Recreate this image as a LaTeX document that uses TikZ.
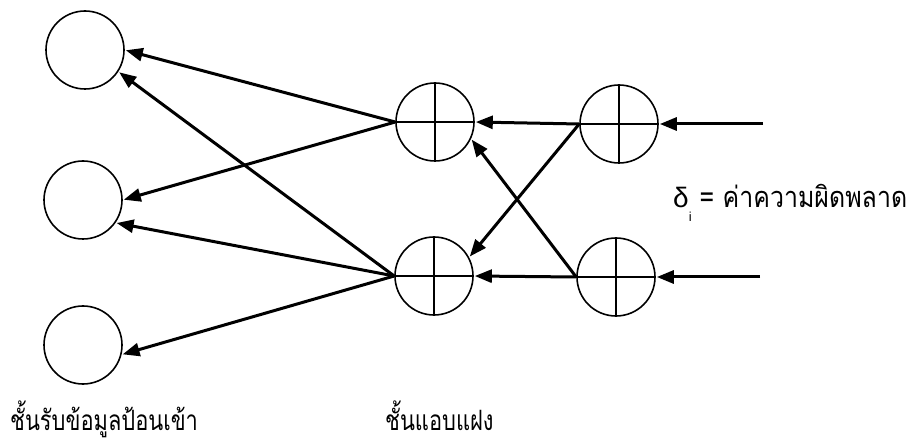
\documentclass[tikz,border=0pt]{standalone}
\usepackage{fontspec}
\newfontfamily\thaifont[Script=Thai]{Loma}
\newfontfamily\greekfont{Liberation Sans}
\usetikzlibrary{arrows.meta}
\begin{document}
\begin{tikzpicture}[
		x=1pt, y=-1pt,
		input/.style={circle, draw, line width=1.6pt, minimum size=78pt, inner sep=0pt},
		unit/.style={input, path picture={\draw[line width=1.6pt] (path picture bounding box.north) -- (path picture bounding box.south) (path picture bounding box.west) -- (path picture bounding box.east);}},
		link/.style={-{Triangle[length=17pt, width=13pt]}, line width=3pt, shorten >=1pt},
		layername/.style={font=\thaifont\fontsize{28}{32}\selectfont, anchor=base west, inner sep=0pt}
		]
		\useasboundingbox (0,0) rectangle (910,446);
		% Input layer
		\node[input] (in1) at (85,50) {};
		\node[input] (in2) at (83,200) {};
		\node[input] (in3) at (83,345) {};
		% Hidden layer
		\node[unit] (hid1) at (435,122) {};
		\node[unit] (hid2) at (434,276) {};
		% Output layer
		\node[unit] (out1) at (619,124) {};
		\node[unit] (out2) at (616,277) {};
		\coordinate (err1) at (763,124);
		\coordinate (err2) at (760,277);
		% Errors fed back
		\draw[link] (err1) -- (out1.east);
		\draw[link] (err2) -- (out2.east);
		\draw[link] (out1.west) -- (hid1.east);
		\draw[link] (out2.west) -- (hid2.east);
		\draw[link] (out1.west) -- (hid2.28);
		\draw[link] (out2.west) -- (hid1.-25);
		\draw[link] (hid1.west) -- (in1.east);
		\draw[link] (hid1.west) -- (in2.east);
		\draw[link] (hid2.west) -- (in1.-33);
		\draw[link] (hid2.west) -- (in2.-35);
		\draw[link] (hid2.west) -- (in3.-14);
		% Labels
		\node[anchor=base west, inner sep=0pt] (errname) at (673,208) {{\greekfont\fontsize{28}{30}\selectfont δ\raisebox{-14pt}{\fontsize{13}{14}\selectfont i}}\hspace{8pt}{\thaifont\fontsize{29}{32}\selectfont\scalebox{0.86}[1]{= ค่าความผิดพลาด}}};
		\node[layername] (inname) at (10,430) {\scalebox{0.78}[1]{ชั้นรับข้อมูลป้อนเข้า}};
		\node[layername] (hidname) at (385,430) {\scalebox{0.78}[1]{ชั้นแอบแฝง}};
\end{tikzpicture}
\end{document}
